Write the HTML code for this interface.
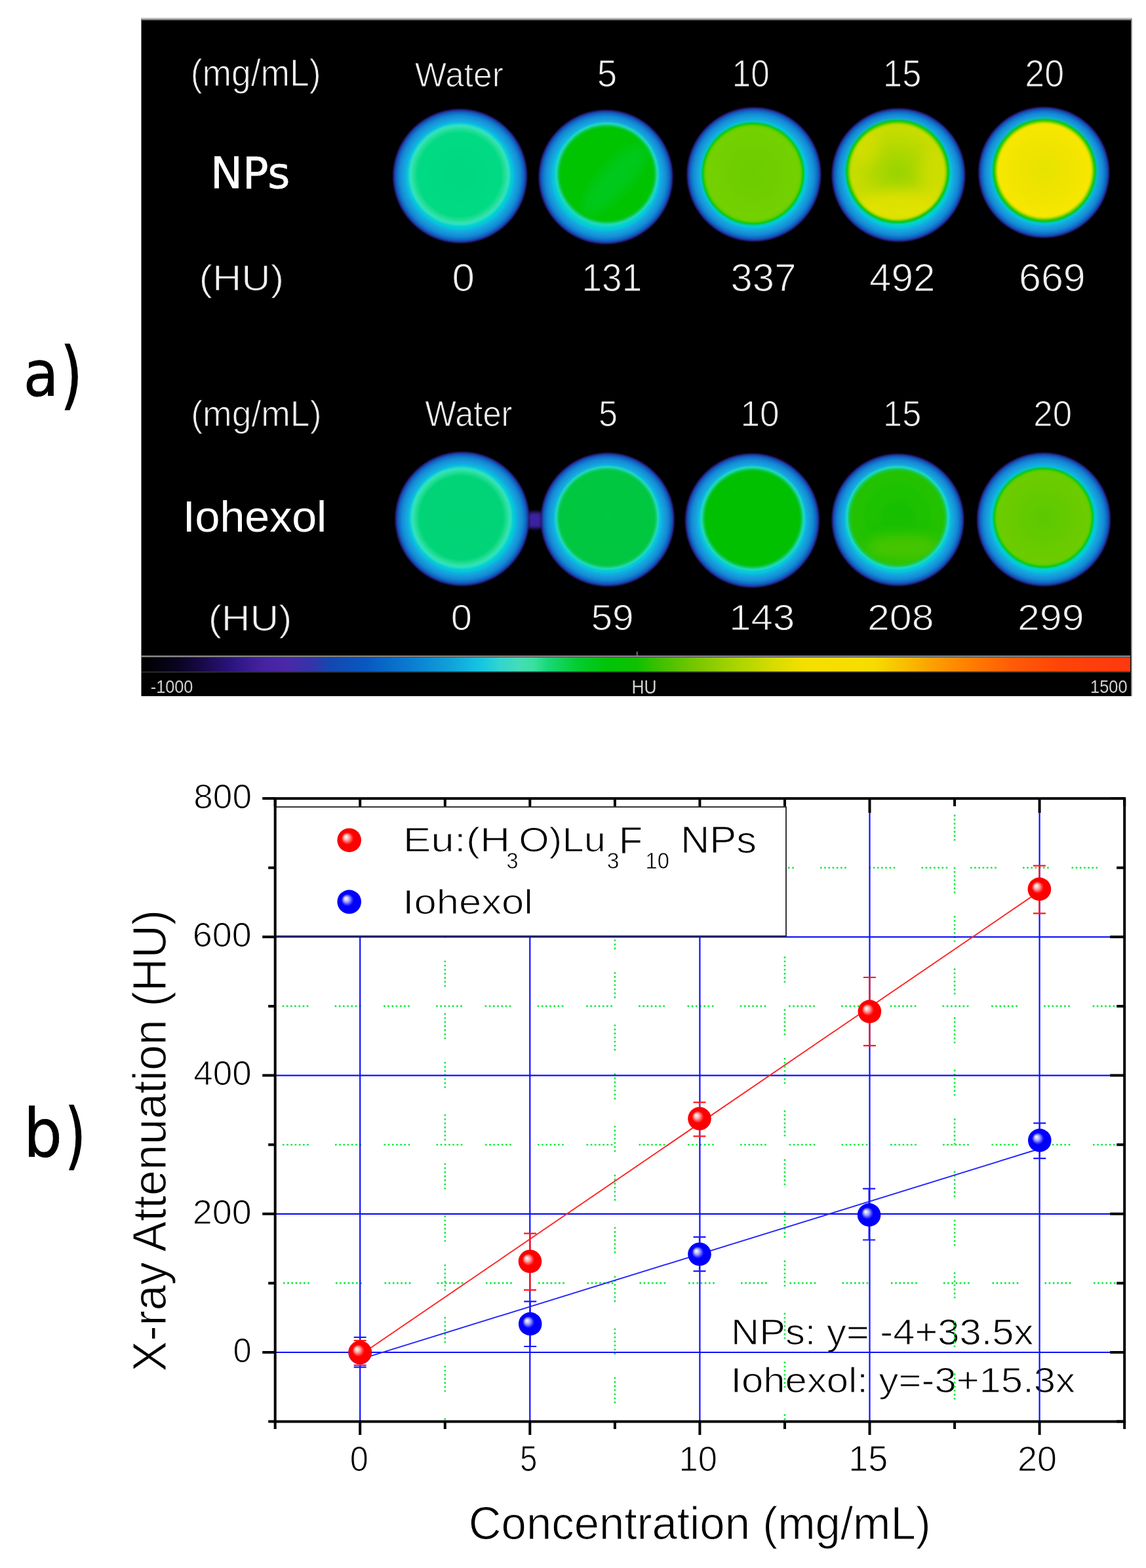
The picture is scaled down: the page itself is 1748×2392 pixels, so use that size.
<!DOCTYPE html>
<html><head><meta charset="utf-8"><style>
html,body{margin:0;padding:0;background:#fff;}
svg{display:block;}
text{font-family:"Liberation Sans",Arial,sans-serif;}
</style></head><body>
<svg width="1748" height="2392" viewBox="0 0 1748 2392">
<rect width="1748" height="2392" fill="#fff"/>
<rect x="215" y="27" width="1512" height="1035" fill="#c8c8c8"/>
<rect x="215" y="29" width="1511.5" height="1033" fill="#7a7a7a"/>
<rect x="216" y="31" width="1509" height="1031" fill="#000"/>
<defs>
<filter id="blur2" x="-20%" y="-20%" width="140%" height="140%"><feGaussianBlur stdDeviation="1.6"/></filter>
<filter id="blur1" x="-20%" y="-20%" width="140%" height="140%"><feGaussianBlur stdDeviation="0.8"/></filter>
<filter id="blur3" x="-50%" y="-50%" width="200%" height="200%"><feGaussianBlur stdDeviation="2.5"/></filter>
<filter id="blur8" x="-50%" y="-50%" width="200%" height="200%"><feGaussianBlur stdDeviation="9"/></filter>
<radialGradient id="ring" cx="0.5" cy="0.5" r="0.5">
  <stop offset="0.74" stop-color="#30dcc8"/>
  <stop offset="0.785" stop-color="#18c8e0"/>
  <stop offset="0.83" stop-color="#18b0e2"/>
  <stop offset="0.88" stop-color="#1a9cde"/>
  <stop offset="0.925" stop-color="#188cd8"/>
  <stop offset="0.955" stop-color="#1670cc"/>
  <stop offset="0.975" stop-color="#1e44b0"/>
  <stop offset="0.99" stop-color="#28187a"/>
  <stop offset="1" stop-color="#000" stop-opacity="0"/>
</radialGradient>
<radialGradient id="fNP15" cx="0.47" cy="0.45" r="0.55">
  <stop offset="0" stop-color="#96d200"/>
  <stop offset="0.6" stop-color="#b4da00"/>
  <stop offset="1" stop-color="#dce200"/>
</radialGradient>
<radialGradient id="fNP20" cx="0.5" cy="0.45" r="0.55">
  <stop offset="0" stop-color="#ece200"/>
  <stop offset="1" stop-color="#fce600"/>
</radialGradient>
<radialGradient id="fNP10" cx="0.5" cy="0.45" r="0.55">
  <stop offset="0" stop-color="#62c800"/>
  <stop offset="1" stop-color="#74cf00"/>
</radialGradient>
<linearGradient id="fNP5" x1="0" y1="1" x2="1" y2="0">
  <stop offset="0" stop-color="#00c400"/>
  <stop offset="0.45" stop-color="#00c830"/>
  <stop offset="0.6" stop-color="#00c418"/>
  <stop offset="1" stop-color="#00c200"/>
</linearGradient>
<linearGradient id="fIO15" x1="0" y1="0" x2="0" y2="1">
  <stop offset="0" stop-color="#10c000"/>
  <stop offset="0.6" stop-color="#20c200"/>
  <stop offset="1" stop-color="#58c800"/>
</linearGradient>
<linearGradient id="cbar" x1="219" y1="0" x2="1723" y2="0" gradientUnits="userSpaceOnUse">
  <stop offset="0" stop-color="#000"/>
  <stop offset="0.035" stop-color="#0a0420"/>
  <stop offset="0.06" stop-color="#180a48"/>
  <stop offset="0.09" stop-color="#2c1480"/>
  <stop offset="0.12" stop-color="#4422a0"/>
  <stop offset="0.145" stop-color="#4a28a8"/>
  <stop offset="0.17" stop-color="#3434a8"/>
  <stop offset="0.19" stop-color="#1448b0"/>
  <stop offset="0.225" stop-color="#0858c0"/>
  <stop offset="0.27" stop-color="#0a7cd0"/>
  <stop offset="0.31" stop-color="#10a0d8"/>
  <stop offset="0.33" stop-color="#14b8e0"/>
  <stop offset="0.345" stop-color="#18c8e0"/>
  <stop offset="0.36" stop-color="#30d4d0"/>
  <stop offset="0.38" stop-color="#44dcb8"/>
  <stop offset="0.395" stop-color="#3ce0a0"/>
  <stop offset="0.41" stop-color="#18d878"/>
  <stop offset="0.44" stop-color="#04cc30"/>
  <stop offset="0.47" stop-color="#00c408"/>
  <stop offset="0.5" stop-color="#10c000"/>
  <stop offset="0.52" stop-color="#38c000"/>
  <stop offset="0.56" stop-color="#78c600"/>
  <stop offset="0.6" stop-color="#a8d400"/>
  <stop offset="0.64" stop-color="#d8dc00"/>
  <stop offset="0.67" stop-color="#f4e000"/>
  <stop offset="0.74" stop-color="#f8dc00"/>
  <stop offset="0.77" stop-color="#f8c000"/>
  <stop offset="0.8" stop-color="#fca000"/>
  <stop offset="0.84" stop-color="#ff7c00"/>
  <stop offset="0.88" stop-color="#ff5c08"/>
  <stop offset="0.93" stop-color="#ff4408"/>
  <stop offset="1" stop-color="#ff3810"/>
</linearGradient>
<radialGradient id="sphR" cx="0.5" cy="0.5" r="0.5" fx="0.35" fy="0.35">
  <stop offset="0" stop-color="#fff"/>
  <stop offset="0.1" stop-color="#ffe0e0"/>
  <stop offset="0.25" stop-color="#ffa0a0"/>
  <stop offset="0.4" stop-color="#ff4040"/>
  <stop offset="0.52" stop-color="#ff0000"/>
  <stop offset="1" stop-color="#f80000"/>
</radialGradient>
<radialGradient id="sphB" cx="0.5" cy="0.5" r="0.5" fx="0.35" fy="0.35">
  <stop offset="0" stop-color="#fff"/>
  <stop offset="0.1" stop-color="#e0e0ff"/>
  <stop offset="0.25" stop-color="#a0a0ff"/>
  <stop offset="0.4" stop-color="#4040ff"/>
  <stop offset="0.52" stop-color="#0000ff"/>
  <stop offset="1" stop-color="#0000f8"/>
</radialGradient>
</defs>
<defs><radialGradient id="rg0" cx="0.5" cy="0.5" r="0.5"><stop offset="0.7" stop-color="#20dcb8"/><stop offset="0.75" stop-color="#00d4cc"/><stop offset="0.78" stop-color="#08c4dc"/><stop offset="0.81" stop-color="#10b0e0"/><stop offset="0.85" stop-color="#149cdc"/><stop offset="0.9" stop-color="#1288d4"/><stop offset="0.935" stop-color="#1070c8"/><stop offset="0.958" stop-color="#1450b4"/><stop offset="0.978" stop-color="#2a2894"/><stop offset="0.992" stop-color="#1a0c58"/><stop offset="1.0" stop-color="#000000"/><stop offset="1" stop-color="#000" stop-opacity="0"/></radialGradient><radialGradient id="ig0" cx="0.5" cy="0.5" r="0.5"><stop offset="0" stop-color="#00d880"/><stop offset="0.82" stop-color="#04da84"/><stop offset="0.91" stop-color="#28e09c"/><stop offset="0.96" stop-color="#38e2bc"/><stop offset="0.985" stop-color="#20dcd0"/><stop offset="1.0" stop-color="#00d0d8"/></radialGradient><radialGradient id="rg1" cx="0.5" cy="0.5" r="0.5"><stop offset="0.7" stop-color="#20dcb8"/><stop offset="0.75" stop-color="#00d4cc"/><stop offset="0.78" stop-color="#08c4dc"/><stop offset="0.81" stop-color="#10b0e0"/><stop offset="0.85" stop-color="#149cdc"/><stop offset="0.9" stop-color="#1288d4"/><stop offset="0.935" stop-color="#1070c8"/><stop offset="0.958" stop-color="#1450b4"/><stop offset="0.978" stop-color="#2a2894"/><stop offset="0.992" stop-color="#1a0c58"/><stop offset="1.0" stop-color="#000000"/><stop offset="1" stop-color="#000" stop-opacity="0"/></radialGradient><radialGradient id="ig1" cx="0.5" cy="0.5" r="0.5"><stop offset="0" stop-color="#00c400"/><stop offset="0.9" stop-color="#00c400"/><stop offset="0.95" stop-color="#10cc70"/><stop offset="0.975" stop-color="#30dcc0"/><stop offset="1.0" stop-color="#08d0d8"/></radialGradient><radialGradient id="rg2" cx="0.5" cy="0.5" r="0.5"><stop offset="0.7" stop-color="#20dcb8"/><stop offset="0.75" stop-color="#00d4cc"/><stop offset="0.78" stop-color="#08c4dc"/><stop offset="0.81" stop-color="#10b0e0"/><stop offset="0.85" stop-color="#149cdc"/><stop offset="0.9" stop-color="#1288d4"/><stop offset="0.935" stop-color="#1070c8"/><stop offset="0.958" stop-color="#1450b4"/><stop offset="0.978" stop-color="#2a2894"/><stop offset="0.992" stop-color="#1a0c58"/><stop offset="1.0" stop-color="#000000"/><stop offset="1" stop-color="#000" stop-opacity="0"/></radialGradient><radialGradient id="ig2" cx="0.5" cy="0.5" r="0.5"><stop offset="0" stop-color="#6ccc00"/><stop offset="0.82" stop-color="#74d000"/><stop offset="0.89" stop-color="#74d000"/><stop offset="0.935" stop-color="#58d000"/><stop offset="0.96" stop-color="#04c400"/><stop offset="0.985" stop-color="#00c810"/><stop offset="1.0" stop-color="#00d0a0"/></radialGradient><radialGradient id="rg3" cx="0.5" cy="0.5" r="0.5"><stop offset="0.7" stop-color="#20dcb8"/><stop offset="0.75" stop-color="#00d4cc"/><stop offset="0.78" stop-color="#08c4dc"/><stop offset="0.81" stop-color="#10b0e0"/><stop offset="0.85" stop-color="#149cdc"/><stop offset="0.9" stop-color="#1288d4"/><stop offset="0.935" stop-color="#1070c8"/><stop offset="0.958" stop-color="#1450b4"/><stop offset="0.978" stop-color="#2a2894"/><stop offset="0.992" stop-color="#1a0c58"/><stop offset="1.0" stop-color="#000000"/><stop offset="1" stop-color="#000" stop-opacity="0"/></radialGradient><radialGradient id="ig3" cx="0.5" cy="0.5" r="0.5"><stop offset="0" stop-color="#98d400"/><stop offset="0.82" stop-color="#c8dc00"/><stop offset="0.89" stop-color="#c8dc00"/><stop offset="0.935" stop-color="#58d000"/><stop offset="0.96" stop-color="#04c400"/><stop offset="0.985" stop-color="#00c810"/><stop offset="1.0" stop-color="#00d0a0"/></radialGradient><radialGradient id="rg4" cx="0.5" cy="0.5" r="0.5"><stop offset="0.7" stop-color="#20dcb8"/><stop offset="0.75" stop-color="#00d4cc"/><stop offset="0.78" stop-color="#08c4dc"/><stop offset="0.81" stop-color="#10b0e0"/><stop offset="0.85" stop-color="#149cdc"/><stop offset="0.9" stop-color="#1288d4"/><stop offset="0.935" stop-color="#1070c8"/><stop offset="0.958" stop-color="#1450b4"/><stop offset="0.978" stop-color="#2a2894"/><stop offset="0.992" stop-color="#1a0c58"/><stop offset="1.0" stop-color="#000000"/><stop offset="1" stop-color="#000" stop-opacity="0"/></radialGradient><radialGradient id="ig4" cx="0.5" cy="0.5" r="0.5"><stop offset="0" stop-color="#e6e200"/><stop offset="0.82" stop-color="#f6e600"/><stop offset="0.89" stop-color="#f6e600"/><stop offset="0.935" stop-color="#58d000"/><stop offset="0.96" stop-color="#04c400"/><stop offset="0.985" stop-color="#00c810"/><stop offset="1.0" stop-color="#00d0a0"/></radialGradient><radialGradient id="rg5" cx="0.5" cy="0.5" r="0.5"><stop offset="0.7" stop-color="#20dcb8"/><stop offset="0.75" stop-color="#00d4cc"/><stop offset="0.78" stop-color="#08c4dc"/><stop offset="0.81" stop-color="#10b0e0"/><stop offset="0.85" stop-color="#149cdc"/><stop offset="0.9" stop-color="#1288d4"/><stop offset="0.935" stop-color="#1070c8"/><stop offset="0.958" stop-color="#1450b4"/><stop offset="0.978" stop-color="#2a2894"/><stop offset="0.992" stop-color="#1a0c58"/><stop offset="1.0" stop-color="#000000"/><stop offset="1" stop-color="#000" stop-opacity="0"/></radialGradient><radialGradient id="ig5" cx="0.5" cy="0.5" r="0.5"><stop offset="0" stop-color="#00d474"/><stop offset="0.82" stop-color="#04d478"/><stop offset="0.91" stop-color="#28e09c"/><stop offset="0.96" stop-color="#38e2bc"/><stop offset="0.985" stop-color="#20dcd0"/><stop offset="1.0" stop-color="#00d0d8"/></radialGradient><radialGradient id="rg6" cx="0.5" cy="0.5" r="0.5"><stop offset="0.7" stop-color="#20dcb8"/><stop offset="0.75" stop-color="#00d4cc"/><stop offset="0.78" stop-color="#08c4dc"/><stop offset="0.81" stop-color="#10b0e0"/><stop offset="0.85" stop-color="#149cdc"/><stop offset="0.9" stop-color="#1288d4"/><stop offset="0.935" stop-color="#1070c8"/><stop offset="0.958" stop-color="#1450b4"/><stop offset="0.978" stop-color="#2a2894"/><stop offset="0.992" stop-color="#1a0c58"/><stop offset="1.0" stop-color="#000000"/><stop offset="1" stop-color="#000" stop-opacity="0"/></radialGradient><radialGradient id="ig6" cx="0.5" cy="0.5" r="0.5"><stop offset="0" stop-color="#00c840"/><stop offset="0.9" stop-color="#00c640"/><stop offset="0.95" stop-color="#10cc70"/><stop offset="0.975" stop-color="#30dcc0"/><stop offset="1.0" stop-color="#08d0d8"/></radialGradient><radialGradient id="rg7" cx="0.5" cy="0.5" r="0.5"><stop offset="0.7" stop-color="#20dcb8"/><stop offset="0.75" stop-color="#00d4cc"/><stop offset="0.78" stop-color="#08c4dc"/><stop offset="0.81" stop-color="#10b0e0"/><stop offset="0.85" stop-color="#149cdc"/><stop offset="0.9" stop-color="#1288d4"/><stop offset="0.935" stop-color="#1070c8"/><stop offset="0.958" stop-color="#1450b4"/><stop offset="0.978" stop-color="#2a2894"/><stop offset="0.992" stop-color="#1a0c58"/><stop offset="1.0" stop-color="#000000"/><stop offset="1" stop-color="#000" stop-opacity="0"/></radialGradient><radialGradient id="ig7" cx="0.5" cy="0.5" r="0.5"><stop offset="0" stop-color="#00c000"/><stop offset="0.9" stop-color="#00c000"/><stop offset="0.95" stop-color="#10cc70"/><stop offset="0.975" stop-color="#30dcc0"/><stop offset="1.0" stop-color="#08d0d8"/></radialGradient><radialGradient id="rg8" cx="0.5" cy="0.5" r="0.5"><stop offset="0.7" stop-color="#20dcb8"/><stop offset="0.75" stop-color="#00d4cc"/><stop offset="0.78" stop-color="#08c4dc"/><stop offset="0.81" stop-color="#10b0e0"/><stop offset="0.85" stop-color="#149cdc"/><stop offset="0.9" stop-color="#1288d4"/><stop offset="0.935" stop-color="#1070c8"/><stop offset="0.958" stop-color="#1450b4"/><stop offset="0.978" stop-color="#2a2894"/><stop offset="0.992" stop-color="#1a0c58"/><stop offset="1.0" stop-color="#000000"/><stop offset="1" stop-color="#000" stop-opacity="0"/></radialGradient><radialGradient id="ig8" cx="0.5" cy="0.5" r="0.5"><stop offset="0" stop-color="#14c000"/><stop offset="0.9" stop-color="#24c200"/><stop offset="0.95" stop-color="#10cc70"/><stop offset="0.975" stop-color="#30dcc0"/><stop offset="1.0" stop-color="#08d0d8"/></radialGradient><radialGradient id="rg9" cx="0.5" cy="0.5" r="0.5"><stop offset="0.7" stop-color="#20dcb8"/><stop offset="0.75" stop-color="#00d4cc"/><stop offset="0.78" stop-color="#08c4dc"/><stop offset="0.81" stop-color="#10b0e0"/><stop offset="0.85" stop-color="#149cdc"/><stop offset="0.9" stop-color="#1288d4"/><stop offset="0.935" stop-color="#1070c8"/><stop offset="0.958" stop-color="#1450b4"/><stop offset="0.978" stop-color="#2a2894"/><stop offset="0.992" stop-color="#1a0c58"/><stop offset="1.0" stop-color="#000000"/><stop offset="1" stop-color="#000" stop-opacity="0"/></radialGradient><radialGradient id="ig9" cx="0.5" cy="0.5" r="0.5"><stop offset="0" stop-color="#5cc800"/><stop offset="0.82" stop-color="#6ccc00"/><stop offset="0.89" stop-color="#6ccc00"/><stop offset="0.935" stop-color="#58d000"/><stop offset="0.96" stop-color="#04c400"/><stop offset="0.985" stop-color="#00c810"/><stop offset="1.0" stop-color="#00d0a0"/></radialGradient></defs>
<g filter="url(#blur1)">
<rect x="803" y="781" width="26" height="25" rx="8" fill="#3a24a0" filter="url(#blur3)"/>
<circle cx="701.7" cy="268.6" r="103" fill="url(#rg0)"/>
<circle cx="700.8" cy="266.5" r="78" fill="url(#ig0)"/>
<clipPath id="cp0"><circle cx="700.8" cy="266.5" r="72"/></clipPath>
<circle cx="924" cy="270" r="103" fill="url(#rg1)"/>
<circle cx="925.6" cy="265.5" r="79" fill="url(#ig1)"/>
<clipPath id="cp1"><circle cx="925.6" cy="265.5" r="73"/></clipPath>
<g clip-path="url(#cp1)">
<ellipse cx="937.6" cy="273.5" rx="70" ry="22" transform="rotate(-48 937.6 273.5)" fill="#10d040" opacity="0.45" filter="url(#blur8)"/>
</g>
<circle cx="1150" cy="266" r="103" fill="url(#rg2)"/>
<circle cx="1148.5" cy="264.8" r="79" fill="url(#ig2)"/>
<clipPath id="cp2"><circle cx="1148.5" cy="264.8" r="73"/></clipPath>
<circle cx="1370.5" cy="267" r="102.5" fill="url(#rg3)"/>
<circle cx="1369" cy="261.5" r="80" fill="url(#ig3)"/>
<clipPath id="cp3"><circle cx="1369" cy="261.5" r="74"/></clipPath>
<g clip-path="url(#cp3)">
<ellipse cx="1374" cy="316.5" rx="70" ry="26" fill="#ece400" opacity="0.7" filter="url(#blur8)"/>
<ellipse cx="1319" cy="221.5" rx="22" ry="30" fill="#dce000" opacity="0.5" filter="url(#blur8)"/>
<ellipse cx="1424" cy="271.5" rx="20" ry="45" fill="#d8e000" opacity="0.5" filter="url(#blur8)"/>
</g>
<circle cx="1592.3" cy="263" r="100.5" fill="url(#rg4)"/>
<circle cx="1593" cy="260" r="80" fill="url(#ig4)"/>
<clipPath id="cp4"><circle cx="1593" cy="260" r="74"/></clipPath>
<circle cx="705" cy="791.5" r="103" fill="url(#rg5)"/>
<circle cx="703.6" cy="789.8" r="78" fill="url(#ig5)"/>
<clipPath id="cp5"><circle cx="703.6" cy="789.8" r="72"/></clipPath>
<circle cx="926.7" cy="792.7" r="102.6" fill="url(#rg6)"/>
<circle cx="926" cy="790" r="79.5" fill="url(#ig6)"/>
<clipPath id="cp6"><circle cx="926" cy="790" r="73.5"/></clipPath>
<circle cx="1147.4" cy="794" r="103" fill="url(#rg7)"/>
<circle cx="1148" cy="790.7" r="80" fill="url(#ig7)"/>
<clipPath id="cp7"><circle cx="1148" cy="790.7" r="74"/></clipPath>
<circle cx="1369.5" cy="793" r="101.5" fill="url(#rg8)"/>
<circle cx="1369" cy="789.5" r="79" fill="url(#ig8)"/>
<clipPath id="cp8"><circle cx="1369" cy="789.5" r="73"/></clipPath>
<g clip-path="url(#cp8)">
<ellipse cx="1377" cy="834.5" rx="55" ry="20" fill="#60c800" opacity="0.6" filter="url(#blur8)"/>
</g>
<circle cx="1592" cy="792.4" r="102.5" fill="url(#rg9)"/>
<circle cx="1591.5" cy="789.7" r="77.5" fill="url(#ig9)"/>
<clipPath id="cp9"><circle cx="1591.5" cy="789.7" r="71.5"/></clipPath>
</g>
<rect x="216" y="1000" width="1508" height="2.5" fill="#8a8a8a"/>
<rect x="219" y="1003" width="1505" height="21.5" fill="url(#cbar)"/>
<rect x="216" y="1024.5" width="1508" height="1.5" fill="#6a6a6a" opacity="0.5"/>
<rect x="971" y="994" width="1.5" height="7" fill="#888"/>
<text transform="translate(290.66,131.21) scale(0.9408,1)" font-size="56.84" fill="#f0f0f0"  stroke="#000" stroke-width="1.1">(mg/mL)</text>
<text transform="translate(632.74,132.48) scale(0.9947,1)" font-size="51.61" fill="#f0f0f0"  stroke="#000" stroke-width="1.1">Water</text>
<text transform="translate(910.81,132.43) scale(0.9545,1)" font-size="57.35" fill="#f0f0f0"  stroke="#000" stroke-width="1.1">5</text>
<text transform="translate(1116.76,132.43) scale(0.8949,1)" font-size="57.24" fill="#f0f0f0"  stroke="#000" stroke-width="1.1">10</text>
<text transform="translate(1347.08,132.42) scale(0.9001,1)" font-size="58.06" fill="#f0f0f0"  stroke="#000" stroke-width="1.1">15</text>
<text transform="translate(1563.31,132.43) scale(0.9397,1)" font-size="57.24" fill="#f0f0f0"  stroke="#000" stroke-width="1.1">20</text>
<text transform="translate(320.91,286.71) scale(0.9883,1)" font-size="66.31" fill="#fff" style="font-family:'DejaVu Sans',sans-serif" stroke="#fff" stroke-width="0.6">NPs</text>
<text transform="translate(303.56,443.43) scale(1.1017,1)" font-size="55.76" fill="#f0f0f0"  stroke="#000" stroke-width="1.1">(HU)</text>
<text transform="translate(689.52,443.91) scale(1.0568,1)" font-size="58.66" fill="#f0f0f0"  stroke="#000" stroke-width="1.1">0</text>
<text transform="translate(887.47,443.91) scale(0.9379,1)" font-size="58.66" fill="#f0f0f0"  stroke="#000" stroke-width="1.1">131</text>
<text transform="translate(1114.55,443.91) scale(1.0207,1)" font-size="58.66" fill="#f0f0f0"  stroke="#000" stroke-width="1.1">337</text>
<text transform="translate(1326.05,443.91) scale(1.0250,1)" font-size="58.66" fill="#f0f0f0"  stroke="#000" stroke-width="1.1">492</text>
<text transform="translate(1553.95,443.91) scale(1.0408,1)" font-size="58.66" fill="#f0f0f0"  stroke="#000" stroke-width="1.1">669</text>
<text transform="translate(291.25,650.20) scale(0.9655,1)" font-size="55.44" fill="#f0f0f0"  stroke="#000" stroke-width="1.1">(mg/mL)</text>
<text transform="translate(648.35,650.44) scale(0.9052,1)" font-size="55.91" fill="#f0f0f0"  stroke="#000" stroke-width="1.1">Water</text>
<text transform="translate(912.91,650.44) scale(0.9290,1)" font-size="56.20" fill="#f0f0f0"  stroke="#000" stroke-width="1.1">5</text>
<text transform="translate(1129.41,650.45) scale(0.9608,1)" font-size="55.41" fill="#f0f0f0"  stroke="#000" stroke-width="1.1">10</text>
<text transform="translate(1347.08,650.44) scale(0.9299,1)" font-size="56.20" fill="#f0f0f0"  stroke="#000" stroke-width="1.1">15</text>
<text transform="translate(1576.36,650.45) scale(0.9532,1)" font-size="55.41" fill="#f0f0f0"  stroke="#000" stroke-width="1.1">20</text>
<text transform="translate(278.70,810.83) scale(1.0235,1)" font-size="66.53" fill="#fff"  >Iohexol</text>
<text transform="translate(317.72,962.27) scale(1.0896,1)" font-size="55.55" fill="#f0f0f0"  stroke="#000" stroke-width="1.1">(HU)</text>
<text transform="translate(687.68,961.14) scale(1.0443,1)" font-size="55.55" fill="#f0f0f0"  stroke="#000" stroke-width="1.1">0</text>
<text transform="translate(901.45,961.14) scale(1.0573,1)" font-size="55.55" fill="#f0f0f0"  stroke="#000" stroke-width="1.1">59</text>
<text transform="translate(1112.31,961.14) scale(1.0778,1)" font-size="55.55" fill="#f0f0f0"  stroke="#000" stroke-width="1.1">143</text>
<text transform="translate(1322.95,961.14) scale(1.0973,1)" font-size="55.55" fill="#f0f0f0"  stroke="#000" stroke-width="1.1">208</text>
<text transform="translate(1551.95,961.14) scale(1.0968,1)" font-size="55.55" fill="#f0f0f0"  stroke="#000" stroke-width="1.1">299</text>
<text transform="translate(229.76,1057.42) scale(0.8947,1)" font-size="28.27" fill="#d0d0d0"  >-1000</text>
<text transform="translate(963.52,1057.60) scale(0.8847,1)" font-size="29.82" fill="#d0d0d0"  >HU</text>
<text transform="translate(1663.09,1056.52) scale(0.8986,1)" font-size="28.27" fill="#d0d0d0"  >1500</text>
<text transform="translate(35.86,603.76) scale(1.0134,1)" font-size="95.83" fill="#000" style="font-family:'DejaVu Sans Condensed','DejaVu Sans',sans-serif;font-stretch:condensed" stroke="#000" stroke-width="0.8">a</text>
<text transform="translate(92.87,609.84) scale(0.8278,1)" font-size="112.16" fill="#000" style="font-family:'DejaVu Sans Condensed','DejaVu Sans',sans-serif;font-stretch:condensed" stroke="#000" stroke-width="1.6">)</text>
<text transform="translate(36.11,1764.47) scale(1.0074,1)" font-size="102.19" fill="#000" style="font-family:'DejaVu Sans Condensed','DejaVu Sans',sans-serif;font-stretch:condensed" stroke="#000" stroke-width="0.8">b</text>
<text transform="translate(99.59,1770.44) scale(0.7937,1)" font-size="111.37" fill="#000" style="font-family:'DejaVu Sans Condensed','DejaVu Sans',sans-serif;font-stretch:condensed" stroke="#000" stroke-width="1.6">)</text>
<text transform="translate(1115.07,2051.08) scale(1.0852,1)" font-size="55.03" fill="#000"  stroke="#fff" stroke-width="1.1">NPs: y= -4+33.5x</text>
<text transform="translate(1114.46,2123.72) scale(1.1006,1)" font-size="54.37" fill="#000"  stroke="#fff" stroke-width="1.1">Iohexol: y=-3+15.3x</text>
<g stroke="#10ec40" stroke-width="2.6" stroke-dasharray="2.6 3.6 2.6 3.6 2.6 3.6 2.6 3.6 2.6 3.6 2.6 3.6 2.6 40.2 2.6 3.6 2.6 3.6 2.6 3.6 2.6 3.6 2.6 3.6 2.6 3.6 2.6 34.7"><line x1="678.8" y1="1429.3" x2="678.8" y2="2168.6" stroke-dashoffset="-36.2"/><line x1="937.9" y1="1429.3" x2="937.9" y2="2168.6" stroke-dashoffset="-53.6"/><line x1="1197.0" y1="1429.3" x2="1197.0" y2="2168.6" stroke-dashoffset="-30"/><line x1="1456.1" y1="1218.1" x2="1456.1" y2="2168.6" stroke-dashoffset="-24.7"/><line x1="419.7" y1="1957.4" x2="1715.2" y2="1957.4" stroke-dashoffset="-12.3"/><line x1="419.7" y1="1746.2" x2="1715.2" y2="1746.2" stroke-dashoffset="-11.3"/><line x1="419.7" y1="1534.9" x2="1715.2" y2="1534.9" stroke-dashoffset="-10.9"/><line x1="1199.0" y1="1323.7" x2="1715.2" y2="1323.7" stroke-dashoffset="-281"/></g>
<g stroke="#1010ff" stroke-width="2.2"><line x1="549.2" y1="1429.3" x2="549.2" y2="2168.6"/><line x1="808.3" y1="1429.3" x2="808.3" y2="2168.6"/><line x1="1067.4" y1="1429.3" x2="1067.4" y2="2168.6"/><line x1="1326.5" y1="1218.1" x2="1326.5" y2="2168.6"/><line x1="1585.6" y1="1218.1" x2="1585.6" y2="2168.6"/><line x1="419.7" y1="2063.0" x2="1715.2" y2="2063.0"/><line x1="419.7" y1="1851.8" x2="1715.2" y2="1851.8"/><line x1="419.7" y1="1640.6" x2="1715.2" y2="1640.6"/><line x1="419.7" y1="1429.3" x2="1715.2" y2="1429.3"/></g>
<line x1="549.2" y1="2067.2" x2="1585.6" y2="1359.6" stroke="#ff2424" stroke-width="1.9"/>
<line x1="549.2" y1="2073.6" x2="1585.6" y2="1752.5" stroke="#2424ff" stroke-width="1.9"/>
<g stroke="#1a1aff" stroke-width="2.2" fill="none"><path d="M549.2 2040.0V2085.7M539.7 2040.0H558.7M539.7 2085.7H558.7"/><path d="M808.7 1985.4V2054.0M799.2 1985.4H818.2M799.2 2054.0H818.2"/><path d="M1067.0 1887.2V1939.1M1057.5 1887.2H1076.5M1057.5 1939.1H1076.5"/><path d="M1325.6 1813.4V1891.5M1316.1 1813.4H1335.1M1316.1 1891.5H1335.1"/><path d="M1585.8 1713.4V1767.2M1576.3 1713.4H1595.3M1576.3 1767.2H1595.3"/></g>
<circle cx="549.2" cy="2063.5" r="17.8" fill="url(#sphB)"/>
<circle cx="808.7" cy="2019.6" r="17.8" fill="url(#sphB)"/>
<circle cx="1067.0" cy="1913.3" r="17.8" fill="url(#sphB)"/>
<circle cx="1325.6" cy="1853.4" r="17.8" fill="url(#sphB)"/>
<circle cx="1585.8" cy="1739.6" r="17.8" fill="url(#sphB)"/>
<g stroke="#ff1a1a" stroke-width="2.2" fill="none"><path d="M549.2 2045.0V2082.6M539.7 2045.0H558.7M539.7 2082.6H558.7"/><path d="M808.5 1881.7V1967.8M799.0 1881.7H818.0M799.0 1967.8H818.0"/><path d="M1067.0 1681.6V1733.4M1057.5 1681.6H1076.5M1057.5 1733.4H1076.5"/><path d="M1326.4 1491.0V1595.2M1316.9 1491.0H1335.9M1316.9 1595.2H1335.9"/><path d="M1585.4 1320.6V1393.3M1575.9 1320.6H1594.9M1575.9 1393.3H1594.9"/></g>
<circle cx="549.2" cy="2063.0" r="17.8" fill="url(#sphR)"/>
<circle cx="808.5" cy="1924.3" r="17.8" fill="url(#sphR)"/>
<circle cx="1067.0" cy="1706.5" r="17.8" fill="url(#sphR)"/>
<circle cx="1326.4" cy="1543.1" r="17.8" fill="url(#sphR)"/>
<circle cx="1585.4" cy="1356.4" r="17.8" fill="url(#sphR)"/>
<path d="M549.2 2168.6v20.5M549.2 1218.1v22M808.3 2168.6v20.5M808.3 1218.1v22M1067.4 2168.6v20.5M1067.4 1218.1v22M1326.5 2168.6v20.5M1326.5 1218.1v22M1585.6 2168.6v20.5M1585.6 1218.1v22M419.7 2168.6v11.5M419.7 1218.1v12M678.8 2168.6v11.5M678.8 1218.1v12M937.9 2168.6v11.5M937.9 1218.1v12M1197.0 2168.6v11.5M1197.0 1218.1v12M1456.1 2168.6v11.5M1456.1 1218.1v12M1715.2 2168.6v11.5M1715.2 1218.1v12M419.7 2063.0h-19.5M1715.2 2063.0h-22M419.7 1851.8h-19.5M1715.2 1851.8h-22M419.7 1640.6h-19.5M1715.2 1640.6h-22M419.7 1429.3h-19.5M1715.2 1429.3h-22M419.7 1218.1h-19.5M1715.2 1218.1h-22M419.7 2168.6h-10.5M1715.2 2168.6h-12M419.7 1957.4h-10.5M1715.2 1957.4h-12M419.7 1746.2h-10.5M1715.2 1746.2h-12M419.7 1534.9h-10.5M1715.2 1534.9h-12M419.7 1323.7h-10.5M1715.2 1323.7h-12" stroke="#000" stroke-width="4" fill="none"/>
<rect x="419.7" y="1231" width="779.3" height="197" fill="#fff" stroke="#222" stroke-width="1.8"/>
<circle cx="532.7" cy="1281.7" r="18.3" fill="url(#sphR)"/>
<circle cx="532.7" cy="1375.8" r="18.3" fill="url(#sphB)"/>
<text transform="translate(614.72,1299.43) scale(1.2554,1)" font-size="50.94" fill="#000"  stroke="#fff" stroke-width="1.1">Eu:(H</text>
<text transform="translate(772.38,1325.04) scale(0.9031,1)" font-size="35.90" fill="#000"  stroke="#fff" stroke-width="0.6">3</text>
<text transform="translate(791.16,1299.43) scale(1.1723,1)" font-size="50.94" fill="#000"  stroke="#fff" stroke-width="1.1">O)Lu</text>
<text transform="translate(925.74,1325.04) scale(0.9383,1)" font-size="35.90" fill="#000"  stroke="#fff" stroke-width="0.6">3</text>
<text transform="translate(943.78,1301.80) scale(1.0442,1)" font-size="57.16" fill="#000"  stroke="#fff" stroke-width="1.1">F</text>
<text transform="translate(984.56,1325.04) scale(0.9075,1)" font-size="35.90" fill="#000"  stroke="#fff" stroke-width="0.6">10</text>
<text transform="translate(1037.93,1301.43) scale(1.0859,1)" font-size="56.63" fill="#000"  stroke="#fff" stroke-width="1.1">NPs</text>
<text transform="translate(614.30,1393.88) scale(1.1858,1)" font-size="51.97" fill="#000"  stroke="#fff" stroke-width="1.1">Iohexol</text>
<rect x="419.7" y="1218.1" width="1295.5" height="950.5" fill="none" stroke="#000" stroke-width="4"/>
<text transform="translate(295.24,1232.89) scale(1.0432,1)" font-size="51.02" fill="#000"  stroke="#fff" stroke-width="1.1">800</text>
<text transform="translate(293.80,1444.12) scale(1.0424,1)" font-size="51.73" fill="#000"  stroke="#fff" stroke-width="1.1">600</text>
<text transform="translate(295.31,1655.34) scale(1.0246,1)" font-size="51.73" fill="#000"  stroke="#fff" stroke-width="1.1">400</text>
<text transform="translate(293.80,1866.56) scale(1.0424,1)" font-size="51.73" fill="#000"  stroke="#fff" stroke-width="1.1">200</text>
<text transform="translate(355.47,2078.07) scale(0.9613,1)" font-size="52.72" fill="#000"  stroke="#fff" stroke-width="1.1">0</text>
<text transform="translate(533.77,2243.86) scale(0.9338,1)" font-size="54.28" fill="#000"  stroke="#fff" stroke-width="1.1">0</text>
<text transform="translate(793.00,2243.85) scale(0.8642,1)" font-size="55.05" fill="#000"  stroke="#fff" stroke-width="1.1">5</text>
<text transform="translate(1035.45,2243.86) scale(0.9697,1)" font-size="54.28" fill="#000"  stroke="#fff" stroke-width="1.1">10</text>
<text transform="translate(1294.25,2243.85) scale(0.9803,1)" font-size="55.05" fill="#000"  stroke="#fff" stroke-width="1.1">15</text>
<text transform="translate(1551.90,2243.86) scale(0.9947,1)" font-size="54.28" fill="#000"  stroke="#fff" stroke-width="1.1">20</text>
<text transform="translate(714.75,2347.54) scale(0.9891,1)" font-size="69.71" fill="#000"  stroke="#fff" stroke-width="1.1">Concentration (mg/mL)</text>
<text transform="translate(252.58,2092.58) rotate(-90) scale(0.9809,1)" font-size="71.42" fill="#000" stroke="#fff" stroke-width="1.1">X-ray Attenuation (HU)</text>
</svg>
</body></html>
